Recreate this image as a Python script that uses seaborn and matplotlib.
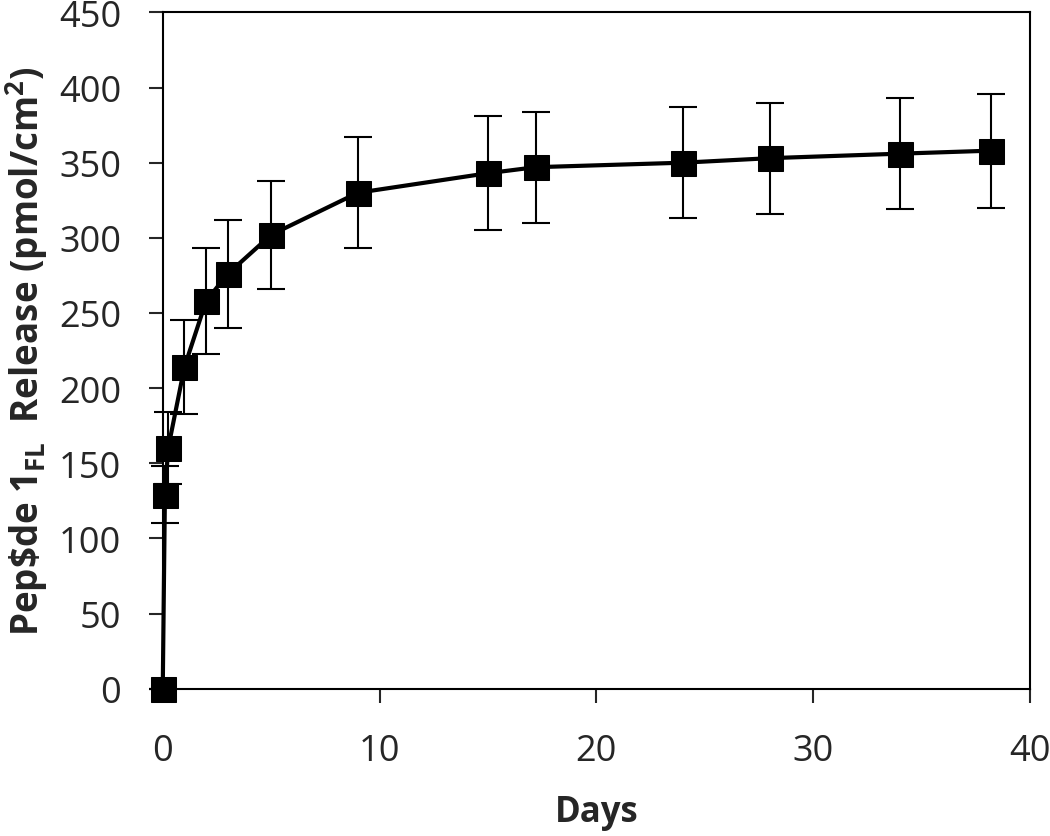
import pandas as pd
import matplotlib.pyplot as plt
import seaborn as sns

# release data
days = [0, 0.1, 0.25, 1, 2, 3, 5, 9, 15, 17.2, 24, 28, 34, 38.2]
release = [0, 129, 160, 214, 258, 276, 302, 330, 343, 347, 350, 353, 356, 358]
err = [0, 19, 24, 31, 35, 36, 36, 37, 38, 37, 37, 37, 37, 38]

xticks = [0, 10, 20, 30, 40]
yticks = [0, 50, 100, 150, 200, 250, 300, 350, 400, 450]

data = pd.DataFrame({'Days': days, 'Release': release, 'Err': err})

sns.set_style("ticks")
plt.rcParams['font.family'] = ['Open Sans', 'DejaVu Sans']
plt.rcParams['mathtext.fontset'] = 'custom'
plt.rcParams['mathtext.bf'] = 'Open Sans:bold'
plt.rcParams['mathtext.rm'] = 'Open Sans'

fig = plt.figure(figsize=(10.5, 8.37), dpi=100)
ax = fig.add_axes([0.155, 0.176, 0.826, 0.808])

# error bars
ax.errorbar(data['Days'], data['Release'], yerr=data['Err'], fmt='none',
            ecolor='black', elinewidth=1.5, capsize=10, capthick=1.5,
            clip_on=False, zorder=2)

# line + square markers
sns.lineplot(data=data, x='Days', y='Release', ax=ax, color='black',
             linewidth=3, marker='s', markersize=18, markeredgecolor='black',
             markerfacecolor='black', clip_on=False, zorder=3, sort=False)

ax.set_xlim(0, 40)
ax.set_ylim(0, 450)
ax.set_xticks(xticks)
ax.set_yticks(yticks)
ax.tick_params(axis='both', labelsize=26, length=10, width=1.5, direction='out')
ax.tick_params(axis='x', pad=22)
ax.tick_params(axis='y', pad=20)
for s in ax.spines.values():
    s.set_linewidth(1.5)
    s.set_color('black')

ax.set_xlabel('Days', fontsize=25, fontweight='bold', labelpad=18)
ax.set_ylabel(r'Pep\$de 1$_{\mathbf{FL}}$  Release (pmol/cm$^{\mathbf{2}}$)',
              fontsize=26.5, fontweight='bold', labelpad=6)

plt.savefig('out.png', dpi=100)
